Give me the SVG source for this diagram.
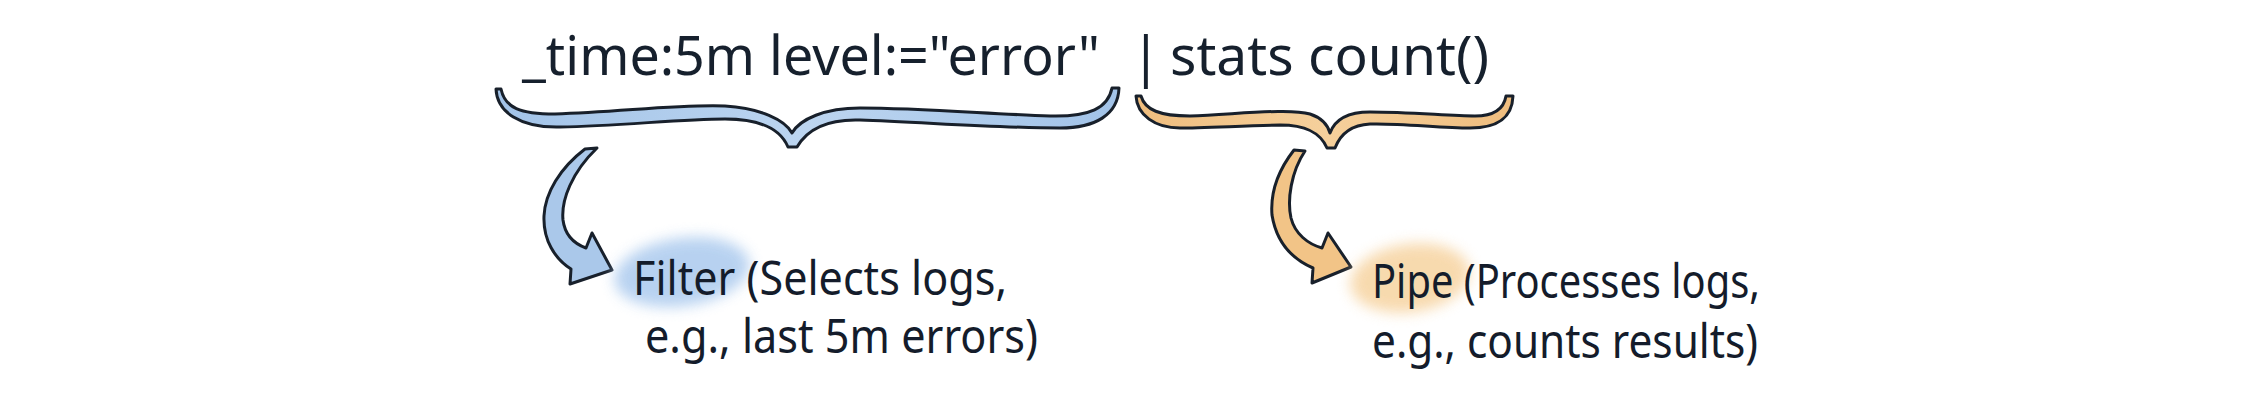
<svg xmlns="http://www.w3.org/2000/svg" width="2247" height="409" viewBox="0 0 2247 409">
  <defs>
    <style>
      .query { font-family: "Noto Sans", "Open Sans", sans-serif; font-size: 54px; fill: #16202d; }
      .label { font-family: "Noto Sans", "Lato", sans-serif; font-size: 47px; fill: #141c2b; }
      .outline { stroke: #18202b; stroke-width: 3; stroke-linejoin: round; }
      .blue { fill: #aac8ea; }
      .orange { fill: #f2c487; }
    </style>
    <filter id="soft" x="-30%" y="-40%" width="160%" height="180%">
      <feGaussianBlur stdDeviation="7"/>
    </filter>
    <linearGradient id="gBlue" x1="0" y1="0" x2="1" y2="0">
      <stop offset="0" stop-color="#a2c3e8"/>
      <stop offset="0.5" stop-color="#bcd5f0"/>
      <stop offset="1" stop-color="#a2c3e8"/>
    </linearGradient>
    <linearGradient id="gOrange" x1="0" y1="0" x2="1" y2="0">
      <stop offset="0" stop-color="#efbd7e"/>
      <stop offset="0.5" stop-color="#f5d09c"/>
      <stop offset="1" stop-color="#efbd7e"/>
    </linearGradient>
  </defs>
  <rect width="2247" height="409" fill="#ffffff"/>

  <g id="query">
    <text class="query" x="522" y="75" textLength="578" lengthAdjust="spacingAndGlyphs">_time:5m level:="error"</text>
    <text class="query" x="1131" y="76">|</text>
    <text class="query" x="1170" y="75" textLength="319" lengthAdjust="spacingAndGlyphs">stats count()</text>
  </g>

  <g id="filter-brace">
    <path class="outline" fill="url(#gBlue)" d="M 501,89 C 505,108 520,114 555,114 C 620,112 680,104 725,106 C 760,108 785,120 792,133 C 800,119 825,108 860,108 C 920,108 990,114 1050,116 C 1090,117 1108,108 1112,88 L 1119,88 C 1118,115 1095,128 1060,128 C 1000,128 920,122 860,120 C 830,119 808,128 797,147 L 788,147 C 780,128 760,119 725,119 C 680,119 620,126 560,127 C 520,128 497,112 496,89 Z"/>
  </g>

  <g id="pipe-brace">
    <path class="outline" fill="url(#gOrange)" d="M 1141,96 C 1145,110 1160,116 1190,116 C 1240,114 1290,108 1310,114 C 1322,118 1328,126 1330,133 C 1334,122 1345,112 1370,112 C 1410,112 1450,116 1475,116 C 1495,116 1504,108 1506,96 L 1513,96 C 1512,120 1495,128 1470,128 C 1440,128 1400,123 1370,124 C 1350,125 1340,135 1335,148 L 1327,148 C 1320,132 1305,125 1280,125 C 1240,126 1200,128 1180,128 C 1155,128 1137,115 1136,96 Z"/>
  </g>

  <g id="connectors">
    <path id="arrow-filter" class="outline blue" d="M 597,148 C 572,172 561,200 563,220 C 565,236 575,244 586,248 L 592,233 L 612,270 L 570,284 L 571,269 C 555,259 543,240 544,216 C 545,193 560,168 585,149 Z"/>
    <path id="arrow-pipe" class="outline orange" d="M 1305,151 C 1291,172 1287,200 1291,218 C 1295,234 1308,244 1322,248 L 1328,233 L 1351,267 L 1312,283 L 1313,268 C 1290,258 1276,240 1272,215 C 1270,190 1280,168 1294,150 Z"/>
  </g>

  <g id="filter-label">
    <ellipse cx="682" cy="272" rx="68" ry="34" fill="#b0cdef" opacity="0.9" filter="url(#soft)" transform="rotate(-8 682 272)"/>
    <text class="label" x="633" y="295" textLength="374" lengthAdjust="spacingAndGlyphs">Filter (Selects logs,</text>
    <text class="label" x="645" y="353" textLength="393" lengthAdjust="spacingAndGlyphs">e.g., last 5m errors)</text>
  </g>

  <g id="pipe-label">
    <ellipse cx="1410" cy="278" rx="60" ry="34" fill="#f7d6a6" opacity="0.9" filter="url(#soft)" transform="rotate(-8 1410 278)"/>
    <text class="label" x="1372" y="298" textLength="388" lengthAdjust="spacingAndGlyphs">Pipe (Processes logs,</text>
    <text class="label" x="1372" y="358" textLength="386" lengthAdjust="spacingAndGlyphs">e.g., counts results)</text>
  </g>
</svg>
